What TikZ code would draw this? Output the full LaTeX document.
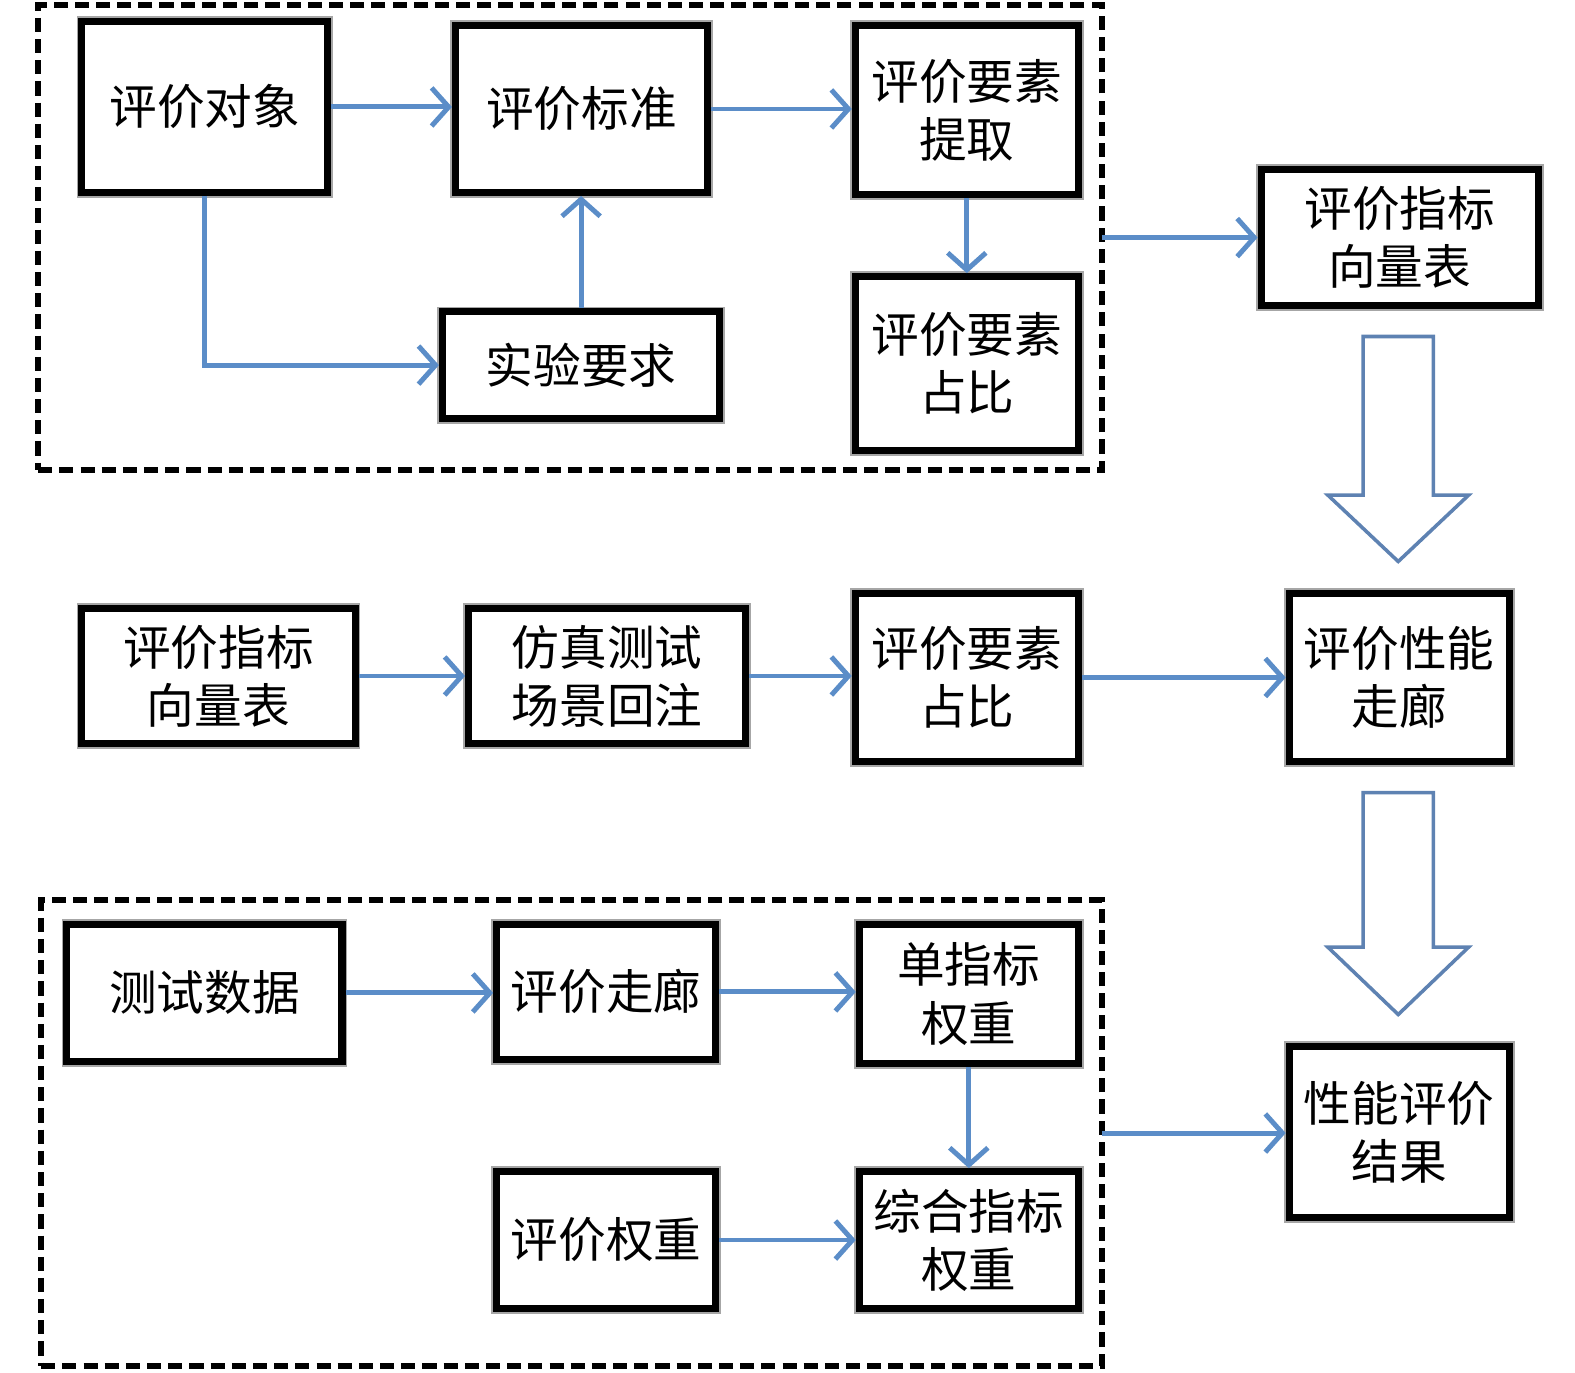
\documentclass[tikz,border=0pt]{standalone}
\usepackage{fontspec}
\newfontfamily\cjk{Noto Sans CJK SC}
\usepackage{tikz}
\usetikzlibrary{arrows.meta}
\definecolor{flow}{HTML}{5B8DC8}
\definecolor{hollow}{HTML}{5E82B2}
\tikzset{evalbox/.style={draw=black,line width=2pt,fill=white,preaction={draw=black!35,line width=3pt},inner sep=2pt,align=center,font=\cjk\fontsize{13.5pt}{16.5pt}\selectfont}, flowline/.style={flow,line width=1.4pt,-{Straight Barb[length=1.7mm,width=3.8mm]}}, groupframe/.style={draw=black,line width=1.6pt,dash pattern=on 4pt off 2pt,outer sep=0pt}, hollowarrow/.style={draw=hollow,line width=1pt,fill=white}}

\begin{document}
\begin{tikzpicture}
\useasboundingbox (0,0) rectangle (15.68,-13.66);
% dashed groups
\node[groupframe,minimum width=10.59cm,minimum height=4.63cm] (grp1) at (5.675,-2.365) {};
\node[groupframe,minimum width=10.56cm,minimum height=4.64cm] (grp2) at (5.69,-11.28) {};
% top group
\node[evalbox,minimum width=2.45cm,minimum height=1.70cm] (obj) at (2.04,-1.065) {评价对象};
\node[evalbox,minimum width=2.51cm,minimum height=1.66cm] (std) at (5.79,-1.085) {评价标准};
\node[evalbox,minimum width=2.22cm,minimum height=1.68cm] (ext) at (9.625,-1.095) {评价要素\\提取};
\node[evalbox,minimum width=2.22cm,minimum height=1.73cm] (rat1) at (9.625,-3.62) {评价要素\\占比};
\node[evalbox,minimum width=2.76cm,minimum height=1.06cm] (req) at (5.785,-3.635) {实验要求};
\node[evalbox,minimum width=2.76cm,minimum height=1.36cm] (vec1) at (13.935,-2.365) {评价指标\\向量表};
% middle row
\node[evalbox,minimum width=2.72cm,minimum height=1.35cm] (vec2) at (2.175,-6.73) {评价指标\\向量表};
\node[evalbox,minimum width=2.76cm,minimum height=1.35cm] (sim) at (6.045,-6.73) {仿真测试\\场景回注};
\node[evalbox,minimum width=2.22cm,minimum height=1.68cm] (rat2) at (9.625,-6.745) {评价要素\\占比};
\node[evalbox,minimum width=2.19cm,minimum height=1.68cm] (cor) at (13.93,-6.745) {评价性能\\走廊};
% bottom group
\node[evalbox,minimum width=2.74cm,minimum height=1.36cm] (dat) at (2.035,-9.885) {测试数据};
\node[evalbox,minimum width=2.18cm,minimum height=1.34cm] (gal) at (6.035,-9.875) {评价走廊};
\node[evalbox,minimum width=2.18cm,minimum height=1.38cm] (sgl) at (9.645,-9.895) {单指标\\权重};
\node[evalbox,minimum width=2.18cm,minimum height=1.36cm] (wgt) at (6.035,-12.345) {评价权重};
\node[evalbox,minimum width=2.18cm,minimum height=1.36cm] (cmp) at (9.645,-12.345) {综合指标\\权重};
\node[evalbox,minimum width=2.19cm,minimum height=1.71cm] (res) at (13.93,-11.27) {性能评价\\结果};
% connectors
\draw[flowline] (obj.east) -- (obj.east -| std.west);
\draw[flowline] (std.east) -- (std.east -| ext.west);
\draw[flowline] (ext.south) -- (rat1.north);
\draw[flowline] (obj.south) |- (req.west);
\draw[flowline] (req.north) -- (req.north |- std.south);
\draw[flowline] (grp1.east) -- (vec1.west);
\draw[flowline] (vec2.east) -- (vec2.east -| sim.west);
\draw[flowline] (sim.east) -- (sim.east -| rat2.west);
\draw[flowline] (rat2.east) -- (rat2.east -| cor.west);
\draw[flowline] (dat.east) -- (dat.east -| gal.west);
\draw[flowline] (gal.east) -- (gal.east -| sgl.west);
\draw[flowline] (sgl.south) -- (sgl.south |- cmp.north);
\draw[flowline] (wgt.east) -- (cmp.west);
\draw[flowline] (grp2.east) -- (grp2.east -| res.west);
% hollow block arrows
\foreach \top/\sh/\tip in {3.35/4.93/5.59, 7.89/9.43/10.10}
  \draw[hollowarrow] (13.57,-\top) -- (14.27,-\top) -- (14.27,-\sh) -- (14.62,-\sh) -- (13.92,-\tip) -- (13.22,-\sh) -- (13.57,-\sh) -- cycle;
\end{tikzpicture}
\end{document}
